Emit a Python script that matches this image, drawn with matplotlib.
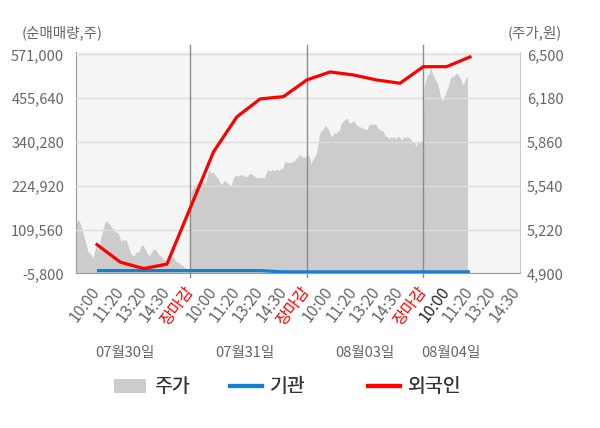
import numpy as np
import matplotlib.pyplot as plt
from matplotlib.transforms import blended_transform_factory
from matplotlib.lines import Line2D
from matplotlib.patches import Patch

plt.rcParams['font.family'] = ['Noto Sans CJK KR', 'DejaVu Sans']

# tick labels along the x axis (one slot per label)
tick_labels = ['10:00', '11:20', '13:20', '14:30', '장마감',
               '10:00', '11:20', '13:20', '14:30', '장마감',
               '10:00', '11:20', '13:20', '14:30', '장마감',
               '10:00', '11:20', '13:20', '14:30']
dates = ['07월30일', '07월31일', '08월03일', '08월04일']

# 주가 (price, won), sampled evenly through each trading day
price_0730 = [5270, 5270, 5290, 5280, 5240, 5200, 5160, 5110, 5060, 5050,
              5040, 5010, 5060, 5100, 5070, 5110, 5170, 5220, 5260, 5290,
              5270, 5260, 5240, 5230, 5210, 5200, 5200, 5170, 5130, 5150,
              5140, 5150, 5110, 5070, 5040, 5030, 5030, 5060, 5050, 5070,
              5100, 5110, 5090, 5060, 5040, 5030, 5050, 5070, 5080, 5070,
              5050, 5030, 5030, 5010, 5000, 4990, 5000, 5020, 5010, 5030,
              5010, 4990, 4980, 4980, 4960, 4960, 4940, 4940, 4930, 4930]
price_0731 = [5490, 5520, 5540, 5550, 5560, 5570, 5580, 5570, 5560, 5570,
              5630, 5660, 5630, 5640, 5630, 5610, 5600, 5570, 5550, 5560,
              5580, 5570, 5560, 5550, 5540, 5580, 5610, 5620, 5610, 5620,
              5620, 5620, 5610, 5610, 5610, 5630, 5630, 5620, 5610, 5600,
              5600, 5600, 5600, 5600, 5600, 5630, 5660, 5650, 5650, 5660,
              5650, 5660, 5660, 5650, 5670, 5660, 5710, 5720, 5710, 5710,
              5710, 5720, 5720, 5740, 5750, 5770, 5760, 5750, 5750, 5750]
price_0803 = [5760, 5760, 5700, 5730, 5750, 5770, 5820, 5910, 5940, 5950,
              5970, 5980, 5960, 5940, 5900, 5910, 5930, 5920, 5940, 5940,
              5990, 6010, 6020, 6030, 6030, 6000, 6000, 6010, 6010, 5990,
              5980, 5970, 5970, 5960, 5960, 5950, 5960, 5990, 5990, 5990,
              5990, 5990, 5960, 5960, 5940, 5950, 5920, 5900, 5900, 5880,
              5900, 5890, 5900, 5880, 5900, 5900, 5880, 5880, 5900, 5890,
              5900, 5890, 5880, 5860, 5860, 5830, 5860, 5850, 5860, 5860]
price_0804 = [6260, 6310, 6350, 6360, 6410, 6360, 6340, 6310, 6290, 6240,
              6180, 6160, 6190, 6220, 6250, 6290, 6330, 6340, 6340, 6360,
              6360, 6340, 6320, 6280, 6290, 6330, 6340]

# 외국인 / 기관 cumulative net buying (shares), one value per tick slot 1..17
foreign = [70100, 24200, 7100, 18900, 166600, 314500, 406500, 453800, 459800,
           503700, 524800, 516900, 503700, 495100, 538700, 538700, 564200]
inst = [1800, 1800, 1800, 1800, 1800, 1800, 1800, 1800, -1500,
        -1500, -1500, -1500, -1500, -1500, -1500, -1500, -1500]

price_ticks = [4900, 5220, 5540, 5860, 6180, 6500]
vol_ticks = [-5800, 109560, 224920, 340280, 455640, 571000]

GRAY = '#cccccc'
BLUE = '#1580d0'
RED = '#ff0000'

fig = plt.figure(figsize=(6, 4.28), dpi=100)
ax = fig.add_axes([0.1267, 0.361, 0.74, 0.5175])
ax.set_facecolor('#f5f5f5')

# price area
step = 5 / 70
px, py = [], []
for d, p in enumerate([price_0730, price_0731, price_0803, price_0804]):
    px.extend(d * 5 + (np.arange(len(p)) + 0.5) * step)
    py.extend(p)
ax.fill_between(px, py, 4900, color=GRAY, lw=0, zorder=1)
ax.set_ylim(4900, 6517.5)
ax.set_yticks(price_ticks)
ax.set_yticklabels([f'{v:,}' for v in price_ticks])
ax.grid(axis='y', color='#dddddd', lw=1)
ax.set_axisbelow(False)

ticks_x = np.arange(1, len(tick_labels) + 1)
ax.set_xlim(0.1, 19.15)
ax.set_xticks(ticks_x)
ax.set_xticklabels(tick_labels, rotation=53, ha='right', va='center',
                   rotation_mode='anchor')
for i, lab in enumerate(ax.get_xticklabels()):
    if tick_labels[i] == '장마감':
        lab.set_color('red')
    elif i == 15:
        lab.set_color('#222222')
    else:
        lab.set_color('#666666')
ax.tick_params(axis='x', length=0, pad=11, labelsize=11.5)

ax.spines['top'].set_visible(False)
ax.spines['left'].set_color('#999999')
ax.spines['bottom'].set_color('#999999')
ax.spines['right'].set_color('#cccccc')

# day dividers
tr = blended_transform_factory(ax.transData, ax.transAxes)
for xd in (5, 10, 15):
    ax.plot([xd, xd], [-0.016, 1.032], transform=tr, clip_on=False,
            color='#8c8c8c', lw=1, zorder=3)

# volume axis on the left
ax2 = ax.twinx()
ax.yaxis.tick_right()
ax.tick_params(axis='y', length=0, pad=5, labelsize=10.5, labelcolor='#666666')
ax2.yaxis.tick_left()
ax2.set_ylim(-5800, 577300)
ax2.set_yticks(vol_ticks)
ax2.set_yticklabels([f'{v:,}' for v in vol_ticks])
ax2.tick_params(axis='y', length=0, pad=8.5, labelsize=10.5, labelcolor='#666666')
for s in ax2.spines.values():
    s.set_visible(False)
slots = np.arange(1, len(foreign) + 1)
ax2.plot(slots, inst, color=BLUE, lw=2.3, solid_capstyle='butt')
ax2.plot(slots, foreign, color=RED, lw=2.3)

# date labels under the time ticks
trd = blended_transform_factory(ax.transData, fig.transFigure)
for xd, lab in zip([2.2, 7.35, 12.5, 16.2], dates):
    ax.text(xd, 1 - 353 / 428, lab, transform=trd, ha='center', va='center',
            fontsize=10.5, color='#666666')

fig.text(22 / 600, 1 - 33 / 428, '(순매매량,주)', ha='left', va='center',
         fontsize=10.5, color='#666666')
fig.text(562 / 600, 1 - 33 / 428, '(주가,원)', ha='right', va='center',
         fontsize=10.5, color='#666666')

# legend: three separate entries, as in the original layout
handles = [Patch(facecolor=GRAY, edgecolor='none'),
           Line2D([], [], color=BLUE, lw=3),
           Line2D([], [], color=RED, lw=3)]
names = ['주가', '기관', '외국인']
for h, name, lx in zip(handles, names, [114, 230, 368]):
    lg = fig.legend([h], [name], loc='center left',
                    bbox_to_anchor=(lx / 600, 1 - 387 / 428), frameon=False,
                    fontsize=14, handlelength=1.65, handleheight=0.7,
                    handletextpad=0.42, borderpad=0, borderaxespad=0,
                    labelcolor='#333333')
    fig.add_artist(lg)

fig.savefig('out.png', dpi=100)
